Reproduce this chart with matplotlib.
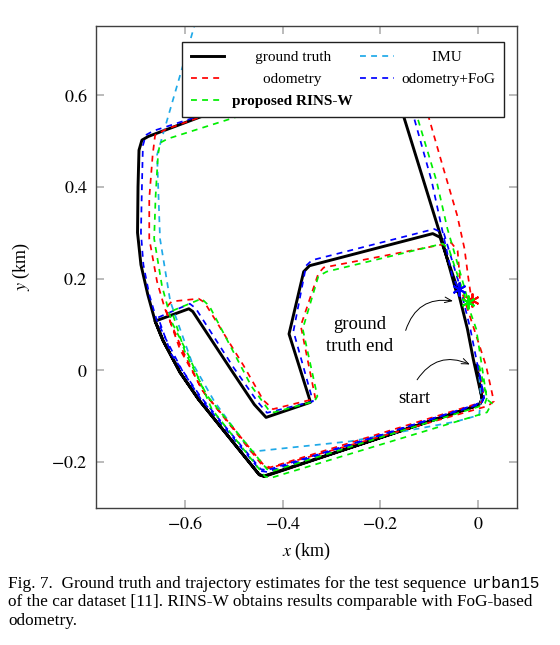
import matplotlib
matplotlib.use("Agg")
import matplotlib.pyplot as plt
from matplotlib.font_manager import FontProperties

plt.rcParams['font.family'] = ['Liberation Serif', 'DejaVu Serif']
plt.rcParams['mathtext.fontset'] = 'stix'

# ground truth (start -> inner loop -> outer loop -> end), km
gt_x = [-0.003, 0.008, 0.004, -0.010, -0.438, -0.448, -0.572, -0.610, -0.645,
        -0.661, -0.592, -0.584, -0.505, -0.458, -0.434, -0.343, -0.387, -0.357,
        -0.345, -0.093, -0.078, -0.043, -0.022, -0.010, 0.008, 0.004, -0.010,
        -0.438, -0.448, -0.572, -0.610, -0.645, -0.661, -0.676, -0.690, -0.697,
        -0.696, -0.694, -0.688, -0.675, -0.200, -0.154, -0.075, -0.045]
gt_y = [0.010, -0.062, -0.073, -0.080, -0.231, -0.228, -0.064, -0.005, 0.065,
        0.107, 0.134, 0.128, 0.000, -0.075, -0.103, -0.070, 0.079, 0.215,
        0.228, 0.298, 0.290, 0.180, 0.090, 0.024, -0.062, -0.073, -0.080,
        -0.232, -0.228, -0.064, -0.005, 0.065, 0.107, 0.165, 0.230, 0.300,
        0.400, 0.480, 0.502, 0.510, 0.700, 0.559, 0.287, 0.172]

# IMU only
imu_x = [0.000, 0.006, 0.002, -0.045, -0.260, -0.465, -0.540, -0.586, -0.630,
         -0.651, -0.657, -0.562]
imu_y = [0.010, -0.060, -0.098, -0.112, -0.155, -0.178, -0.068, 0.018, 0.150,
         0.287, 0.470, 0.820]

# odometry
odo_x = [0.000, 0.012, 0.006, -0.008, -0.425, -0.438, -0.560, -0.610, -0.640,
         -0.627, -0.572, -0.560, -0.480, -0.440, -0.420, -0.333, -0.363, -0.327,
         -0.316, -0.055, -0.042, -0.036, 0.016, 0.028, 0.032, 0.020, -0.428,
         -0.440, -0.566, -0.606, -0.641, -0.657, -0.673, -0.673, -0.666, -0.661,
         -0.640, -0.150, -0.105, -0.073, -0.043, -0.028, -0.020, -0.0135]
odo_y = [0.010, -0.060, -0.070, -0.075, -0.212, -0.208, -0.050, 0.045, 0.135,
         0.150, 0.156, 0.148, 0.010, -0.065, -0.085, -0.062, 0.097, 0.211,
         0.224, 0.278, 0.260, 0.180, 0.010, -0.048, -0.068, -0.078, -0.214,
         -0.210, -0.042, 0.046, 0.134, 0.193, 0.287, 0.375, 0.470, 0.513,
         0.525, 0.712, 0.566, 0.447, 0.338, 0.265, 0.200, 0.153]

# odometry + FoG
fog_x = [-0.001, 0.012, 0.008, -0.005, -0.432, -0.445, -0.568, -0.628, -0.655,
         -0.590, -0.578, -0.500, -0.452, -0.432, -0.338, -0.378, -0.352, -0.340,
         -0.090, -0.070, -0.038, -0.016, -0.003, 0.012, 0.008, -0.005, -0.432,
         -0.445, -0.568, -0.606, -0.640, -0.658, -0.673, -0.685, -0.690, -0.688,
         -0.686, -0.680, -0.665, -0.169, -0.134, -0.095, -0.073, -0.053, -0.040]
fog_y = [0.012, -0.060, -0.070, -0.077, -0.218, -0.216, -0.058, 0.035, 0.115,
         0.145, 0.135, 0.005, -0.068, -0.093, -0.068, 0.085, 0.228, 0.240,
         0.308, 0.298, 0.185, 0.090, 0.020, -0.058, -0.068, -0.075, -0.222,
         -0.220, -0.062, 0.000, 0.070, 0.110, 0.165, 0.230, 0.300, 0.400,
         0.490, 0.513, 0.522, 0.694, 0.561, 0.412, 0.303, 0.206, 0.178]

# proposed RINS-W
rins_x = [0.002, 0.018, 0.014, 0.000, -0.420, -0.432, -0.555, -0.600, -0.627,
          -0.566, -0.550, -0.464, -0.430, -0.418, -0.335, -0.329, -0.359, -0.327,
          -0.310, -0.073, -0.060, -0.040, -0.004, 0.018, 0.028, 0.018, -0.424,
          -0.436, -0.545, -0.592, -0.627, -0.647, -0.663, -0.660, -0.655, -0.651,
          -0.635, -0.157, -0.124, -0.085, -0.063, -0.035, -0.020]
rins_y = [0.010, -0.060, -0.072, -0.080, -0.220, -0.216, -0.055, 0.040, 0.129,
          0.156, 0.140, -0.035, -0.085, -0.092, -0.068, -0.057, 0.090, 0.205,
          0.215, 0.276, 0.265, 0.200, 0.090, -0.064, -0.072, -0.092, -0.235,
          -0.232, -0.085, 0.031, 0.105, 0.184, 0.287, 0.380, 0.470, 0.496,
          0.505, 0.667, 0.550, 0.412, 0.309, 0.206, 0.149]

xticks = [-0.6, -0.4, -0.2, 0]
yticks = [-0.2, 0, 0.2, 0.4, 0.6]
xticklabels = ['$-0.6$', '$-0.4$', '$-0.2$', '$0$']
yticklabels = ['$-0.2$', '$0$', '$0.2$', '$0.4$', '$0.6$']

fig = plt.figure(figsize=(5.6, 6.45), dpi=100)
ax = fig.add_axes([0.1714, 0.2129, 0.7523, 0.7468])

dash = (0, (3.4, 3.0))
lw = 1.25
ax.plot(gt_x, gt_y, color='black', lw=2.1, label='ground truth', zorder=2)
ax.plot(odo_x, odo_y, color='#ff0000', lw=lw, ls=dash, label='odometry', zorder=3)
ax.plot(rins_x, rins_y, color='#00ee00', lw=lw, ls=dash, label='proposed RINS-W', zorder=5)
ax.plot(imu_x, imu_y, color='#1fa9e8', lw=lw, ls=dash, label='IMU', zorder=2.5)
ax.plot(fog_x, fog_y, color='#0000ff', lw=lw, ls=dash, label='odometry+FoG', zorder=4)

# end points
ax.plot(fog_x[-1], fog_y[-1], marker=(6, 2, 0), ms=10, mew=1.4, color='#0000ff', zorder=6)
ax.plot(odo_x[-1], odo_y[-1], marker=(6, 2, 0), ms=10, mew=1.4, color='#ff0000', zorder=6)
ax.plot(rins_x[-1], rins_y[-1], marker=(6, 2, 0), ms=10, mew=1.4, color='#00ee00', zorder=7)

ax.set_xlim(-0.782, 0.080)
ax.set_ylim(-0.30, 0.751)
ax.set_xticks(xticks)
ax.set_yticks(yticks)
ax.set_xticklabels(xticklabels)
ax.set_yticklabels(yticklabels)
ax.tick_params(direction='in', length=6, width=1.1, color='#a8a8a8',
               labelsize=13, top=True, right=True, pad=6)
for s in ax.spines.values():
    s.set_color('#404040')
    s.set_linewidth(1.0)

ax.set_xlabel(r'$x$ (km)', fontsize=13, labelpad=6)
ax.set_ylabel(r'$y$ (km)', fontsize=13, labelpad=14)

# annotations
ax.text(-0.242, 0.076, 'ground\ntruth end', ha='center', va='center',
        fontsize=13.5, linespacing=1.35)
ax.annotate('', xy=(-0.046, 0.150), xytext=(-0.150, 0.081),
            arrowprops=dict(arrowstyle='->,head_length=0.5,head_width=0.2',
                            color='black', lw=0.7,
                            connectionstyle='arc3,rad=-0.45'))
ax.text(-0.130, -0.062, 'start', ha='center', va='center', fontsize=13.5)
ax.annotate('', xy=(-0.012, 0.010), xytext=(-0.128, -0.026),
            arrowprops=dict(arrowstyle='->,head_length=0.5,head_width=0.2',
                            color='black', lw=0.7,
                            connectionstyle='arc3,rad=-0.45'))

# legend labels centred in their column (pad with leading spaces)
leg_fs = 11
r = fig.canvas.get_renderer()
def tw(s, bold=False):
    fp = FontProperties(family='Liberation Serif', size=leg_fs,
                        weight='bold' if bold else 'normal')
    return r.get_text_width_height_descent(s, fp, ismath=False)[0]
space_w = tw('a a') - tw('aa')
def centred(s, longest, bold_longest=False):
    n = int(round((tw(longest, bold_longest) - tw(s)) / 2 / space_w))
    return ' ' * max(n, 0) + s

handles, labels = ax.get_legend_handles_labels()
new_labels = []
for lab in labels:
    if lab in ('ground truth', 'odometry'):
        new_labels.append(centred(lab, 'proposed RINS-W', True))
    elif lab == 'IMU':
        new_labels.append(centred(lab, 'odometry+FoG'))
    else:
        new_labels.append(lab)

leg = ax.legend(handles, new_labels, ncol=2, loc='upper right',
                bbox_to_anchor=(0.968, 0.967),
                borderaxespad=0, fontsize=leg_fs, frameon=True, fancybox=False,
                framealpha=1, edgecolor='#202020', handlelength=2.2,
                handletextpad=0.5, columnspacing=0.5, labelspacing=0.55,
                borderpad=0.55)
leg.get_frame().set_linewidth(1.0)
for t in leg.get_texts():
    if t.get_text().startswith('proposed'):
        t.set_fontweight('bold')

# caption
cap_fs = 12.4
cap1 = fig.text(0.0143, 1 - 588 / 645,
                'Fig. 7.  Ground truth and trajectory estimates for the test sequence',
                fontsize=cap_fs, va='baseline')
fig.text(0.0143, 1 - 606.5 / 645,
         'of the car dataset [11]. RINS-W obtains results comparable with FoG-based',
         fontsize=cap_fs, va='baseline')
fig.text(0.0143, 1 - 625 / 645, 'odometry.', fontsize=cap_fs, va='baseline')
fig.canvas.draw()
bb = cap1.get_window_extent(fig.canvas.get_renderer())
fig.text(bb.x1 / fig.bbox.width + 0.012, 1 - 588 / 645, 'urban15',
         family='Liberation Mono', fontsize=11.6, va='baseline')

fig.savefig('out.png', dpi=100)
